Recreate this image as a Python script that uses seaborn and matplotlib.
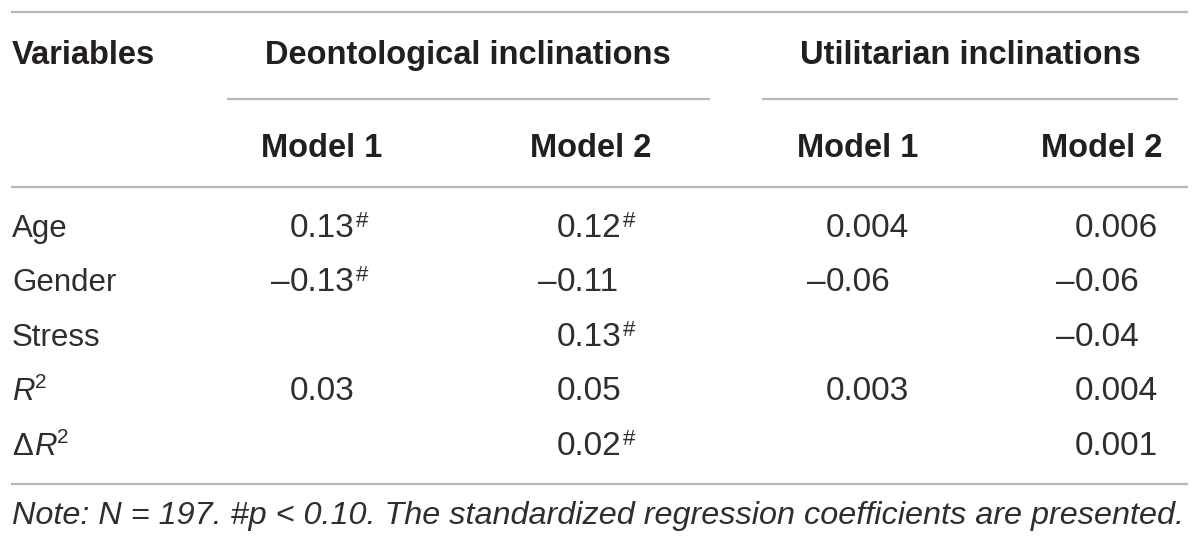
import numpy as np
import pandas as pd
import seaborn as sns
import matplotlib.pyplot as plt

# Table content
variables = ["Age", "Gender", "Stress", "R2", "dR2"]
deon_m1 = ["0.13#", "–0.13#", "", "0.03", ""]
deon_m2 = ["0.12#", "–0.11", "0.13#", "0.05", "0.02#"]
util_m1 = ["0.004", "–0.06", "", "0.003", ""]
util_m2 = ["0.006", "–0.06", "–0.04", "0.004", "0.001"]
groups = ["Deontological inclinations", "Utilitarian inclinations"]
models = ["Model 1", "Model 2", "Model 1", "Model 2"]
note = "Note: N = 197. #p < 0.10. The standardized regression coefficients are presented."

df = pd.DataFrame({"var": variables, "d1": deon_m1, "d2": deon_m2,
                   "u1": util_m1, "u2": util_m2})

sns.set_theme(style="white")
plt.rcParams['font.family'] = ['Liberation Sans', 'DejaVu Sans']

W, H = 1200, 546
fig = plt.figure(figsize=(W / 100, H / 100), dpi=100)
ax = fig.add_axes([0, 0, 1, 1])
ax.set_xlim(0, W)
ax.set_ylim(H, 0)
ax.axis('off')
renderer = fig.canvas.get_renderer()

dark = "#231f20"
body = "#2e2e2e"
line_c = "#b8b8b8"
hdr_size = 23.5
lab_size = 22.5
num_size = 24
sup_size = 16
note_size = 23.3


def width(t):
    return t.get_window_extent(renderer).width


# horizontal rules
ax.hlines([12, 187, 484], 11, 1188, color=line_c, lw=1.6)
ax.hlines(99, 227, 710, color=line_c, lw=1.6)
ax.hlines(99, 762, 1178, color=line_c, lw=1.6)

# header rows
ax.text(12, 64, "Variables", fontsize=hdr_size, fontweight='bold', color=dark, va='baseline')
for g, cx in zip(groups, [468, 970]):
    ax.text(cx, 64, g, fontsize=hdr_size, fontweight='bold', color=dark, ha='center', va='baseline')
for m, cx in zip(models, [322, 591, 858, 1102]):
    ax.text(cx, 157, m, fontsize=hdr_size, fontweight='bold', color=dark, ha='center', va='baseline')

# row labels
baselines = [237, 291, 346, 400, 455]
for lab, yb in zip(df["var"], baselines):
    if lab == "R2":
        t = ax.text(12, yb, "R", fontsize=lab_size, style='italic', color=body, va='baseline')
        ax.text(12 + width(t), yb - 12, "2", fontsize=15, color=body, va='baseline')
    elif lab == "dR2":
        t0 = ax.text(12, yb, "Δ", fontsize=lab_size, color=body, va='baseline')
        x1 = 12 + width(t0) + 1
        t = ax.text(x1, yb, "R", fontsize=lab_size, style='italic', color=body, va='baseline')
        ax.text(x1 + width(t), yb - 12, "2", fontsize=15, color=body, va='baseline')
    else:
        ax.text(12, yb, lab, fontsize=lab_size, color=body, va='baseline')

# numeric cells: digits left-aligned, minus sign hanging to the left
col_x = {"d1": 290, "d2": 557, "u1": 826, "u2": 1075}
for col, x0 in col_x.items():
    for val, yb in zip(df[col], baselines):
        if not val:
            continue
        sig = val.endswith("#")
        s = val.rstrip("#")
        if s.startswith("–"):
            ax.text(x0, yb, "–", fontsize=num_size, color=body, ha='right', va='baseline')
            s = s[1:]
        t = ax.text(x0, yb, s, fontsize=num_size, color=body, va='baseline')
        if sig:
            ax.text(x0 + width(t) + 1, yb - 10, "#", fontsize=sup_size, color=body, va='baseline')

# note
ax.text(12, 524, note, fontsize=note_size, style='italic', color=body, va='baseline')

fig.savefig("out.png", dpi=100)
